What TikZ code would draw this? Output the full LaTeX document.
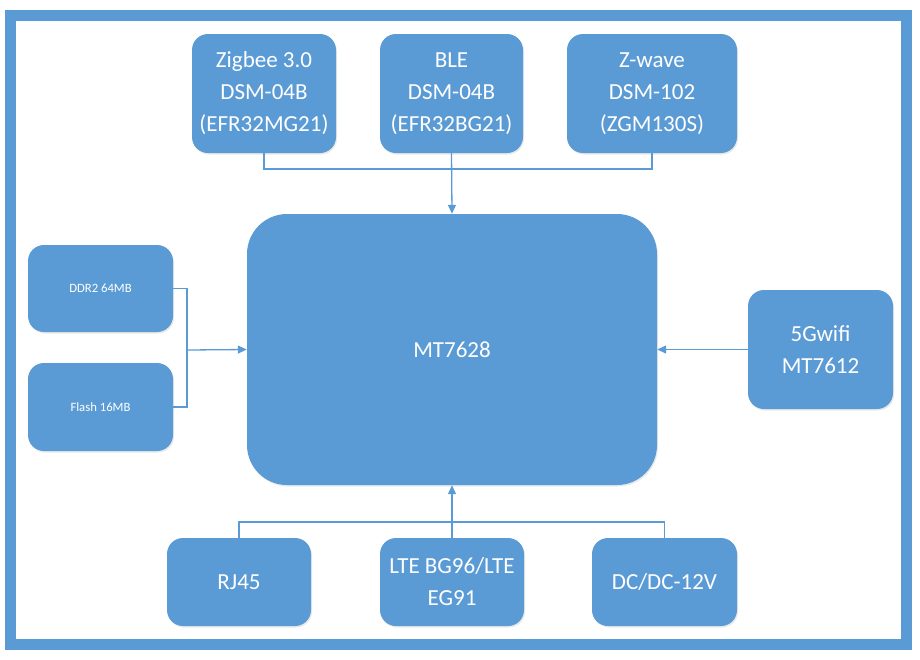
\documentclass[tikz,border=0pt]{standalone}
\usepackage{fontspec}
\setmainfont{Carlito}
\usepackage{xcolor}
\usepackage{tikz}
\usetikzlibrary{positioning,calc,arrows.meta,shadows}
\definecolor{office}{HTML}{5B9BD5}
\definecolor{wire}{HTML}{5B9BD5}
\definecolor{frameblue}{HTML}{5B9BD5}
\tikzset{
  blk/.style      = {fill=office, draw=none, rounded corners=16pt, inner sep=0pt,
                     align=center, text=white, font=\fontsize{23}{32}\selectfont,
                     drop shadow={opacity=0.18, shadow xshift=1pt, shadow yshift=-1.5pt}},
  blksm/.style    = {blk, font=\fontsize{12.7}{15}\selectfont},
  core/.style     = {blk, rounded corners=40pt},
  wirel/.style    = {draw=wire, line width=1.3pt},
  flow/.style     = {-{Triangle[length=9pt,width=8pt]}, draw=wire, line width=1.3pt},
  outline/.style  = {draw=frameblue, line width=11pt},
}

\begin{document}
\begin{tikzpicture}[x=1pt,y=-1pt]
\path[use as bounding box] (0,0) rectangle (920,659);

% ---- outer frame ---------------------------------------------------------
\draw[outline] (10,15.5) rectangle (906.5,644.5);

% ---- radios on top -------------------------------------------------------
\node[blk, minimum width=144pt, minimum height=119pt] (zig) at (264,93.5)   {Zigbee 3.0\\DSM-04B\\(EFR32MG21)};
\node[blk, minimum width=143pt, minimum height=119pt] (ble) at (451.5,93.5) {BLE\\DSM-04B\\(EFR32BG21)};
\node[blk, minimum width=170pt, minimum height=119pt] (zw)  at (652,93.5)   {Z-wave\\DSM-102\\(ZGM130S)};

% ---- the SoC -------------------------------------------------------------
\node[core, minimum width=410pt, minimum height=271pt] (mcu) at (452,349.5) {MT7628};

% ---- memory on the left --------------------------------------------------
\node[blksm, minimum width=145pt, minimum height=87pt] (ddr)   at (100.5,288.5) {DDR2 64MB};
\node[blksm, minimum width=145pt, minimum height=88pt] (flash) at (100.5,407)   {Flash 16MB};

% ---- wifi on the right ---------------------------------------------------
\node[blk, minimum width=145pt, minimum height=119pt] (wifi) at (820.5,349.5) {5Gwifi\\MT7612};

% ---- bottom row ----------------------------------------------------------
\node[blk, minimum width=144pt, minimum height=88pt] (rj)  at (239,582)   {RJ45};
\node[blk, minimum width=144pt, minimum height=88pt] (lte) at (452,582)   {LTE BG96/LTE\\EG91};
\node[blk, minimum width=145pt, minimum height=88pt] (dc)  at (664.5,582) {DC/DC-12V};

% ---- buses ---------------------------------------------------------------
\coordinate (topbus)  at (452,169);
\coordinate (leftbus) at (187,350);
\coordinate (botbus)  at (452,522);

\draw[wirel] (zig.south) |- (topbus) -| (zw.south);
\draw[flow]  (ble.south) -- (mcu.north);

\draw[wirel] (ddr.east) -| (leftbus) |- (flash.east);
\draw[flow]  (leftbus) -- (mcu.west);

\draw[flow]  (wifi.west) -- (mcu.east);

\draw[wirel] (rj.north) |- (botbus) -| (dc.north);
\draw[flow]  (lte.north) -- (mcu.south);

\end{tikzpicture}
\end{document}
